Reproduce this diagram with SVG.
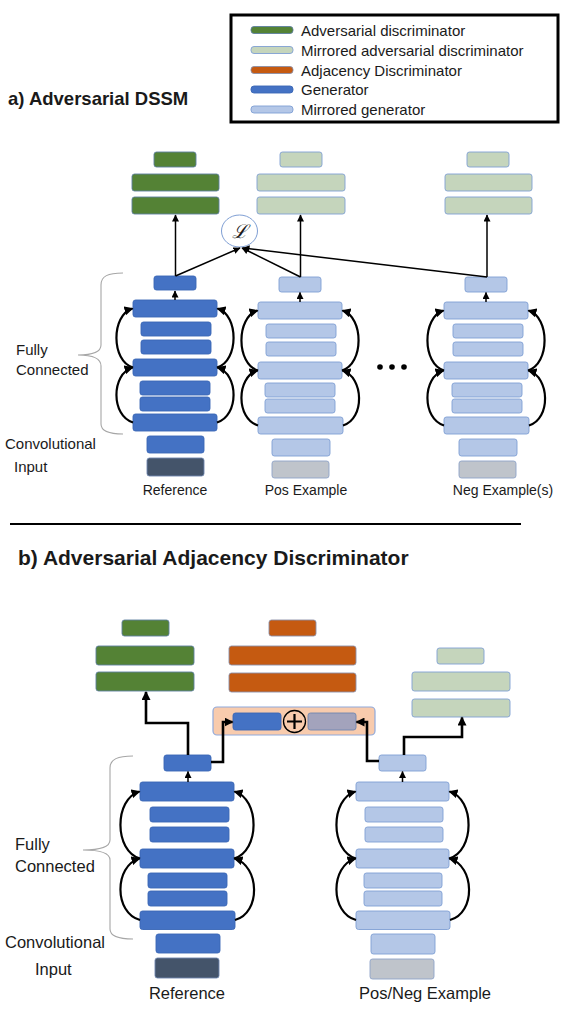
<svg xmlns="http://www.w3.org/2000/svg" width="563" height="1014" viewBox="0 0 563 1014">
<defs>
<style>
text{font-family:"Liberation Sans",Arial,sans-serif;fill:#1a1a1a}
.t{font-size:15px}
.s{font-size:14px}
.b{font-size:16.5px}
.ttl{font-weight:bold}
rect{stroke-width:0.9}
.gen{fill:#4472C4;stroke:#3A66B5}
.mgen{fill:#B4C7E7;stroke:#7F9FD4}
.adv{fill:#548235;stroke:#5E7F9F}
.madv{fill:#C5D5BC;stroke:#7F9FD4}
.adj{fill:#C55A11;stroke:#8A8FA8}
.inp{fill:#44546A;stroke:#6F87B0}
.inpg{fill:#BFC4CB;stroke:#8FA4C8}
.thin{fill:none;stroke:#000;stroke-width:1.5}
.arc{fill:none;stroke:#000;stroke-width:2.2}
.thick{fill:none;stroke:#000;stroke-width:2.6}
.brace{fill:none;stroke:#A6A6A6;stroke-width:1.1}
</style>
<marker id="as" markerUnits="userSpaceOnUse" markerWidth="8" markerHeight="7" refX="6.5" refY="3.5" orient="auto"><path d="M0,0 L7,3.5 L0,7 z" fill="#000"/></marker>
<marker id="ah" markerUnits="userSpaceOnUse" markerWidth="10" markerHeight="9" refX="8" refY="4.5" orient="auto"><path d="M0,0 L9,4.5 L0,9 z" fill="#000"/></marker>
</defs>
<rect width="563" height="1014" fill="#fff" stroke="none"/>

<g id="legend">
<rect x="231" y="15" width="327" height="107" fill="#fff" stroke="#000" style="stroke-width:3"/>
<rect class="adv" x="251" y="26.5" width="42" height="7" rx="3"/>
<rect class="madv" x="251" y="46.5" width="42" height="7" rx="3"/>
<rect class="adj" x="251" y="66.5" width="42" height="7" rx="3"/>
<rect class="gen" x="251" y="86" width="42" height="7" rx="3"/>
<rect class="mgen" x="251" y="106" width="42" height="7" rx="3"/>
<text class="t" x="301" y="35.5">Adversarial discriminator</text>
<text class="t" x="301" y="55.5">Mirrored adversarial discriminator</text>
<text class="t" x="301" y="75.5">Adjacency Discriminator</text>
<text class="t" x="301" y="95">Generator</text>
<text class="t" x="301" y="115">Mirrored generator</text>
</g>

<g id="titles">
<text class="ttl" x="8" y="105" style="font-size:18.5px">a) Adversarial DSSM</text>
<text class="ttl" x="18" y="565" style="font-size:21px">b) Adversarial Adjacency Discriminator</text>
<line x1="10" y1="524" x2="521" y2="524" stroke="#000" stroke-width="2"/>
</g>

<!-- Panel a -->
<g id="a-ref-disc">
<rect class="adv" x="154" y="152" width="42" height="15" rx="2.5"/>
<rect class="adv" x="132" y="174" width="87" height="17" rx="2.5"/>
<rect class="adv" x="132" y="197" width="87" height="17" rx="2.5"/>
</g>
<g id="a-pos-disc">
<rect class="madv" x="280" y="152" width="42" height="15" rx="2.5"/>
<rect class="madv" x="257" y="174" width="88" height="17" rx="2.5"/>
<rect class="madv" x="257" y="197" width="88" height="17" rx="2.5"/>
</g>
<g id="a-neg-disc">
<rect class="madv" x="467" y="152" width="42" height="15" rx="2.5"/>
<rect class="madv" x="445" y="174" width="87" height="17" rx="2.5"/>
<rect class="madv" x="445" y="197" width="87" height="17" rx="2.5"/>
</g>
<g id="a-loss">
<ellipse cx="239.5" cy="231" rx="18" ry="16" fill="#fff" stroke="#7F9FD4" stroke-width="1"/>
<text x="239.5" y="238" text-anchor="middle" style="font-family:'DejaVu Serif',serif;font-style:italic;font-size:19px">ℒ</text>
</g>
<g id="a-ref-gen">
<rect class="gen" x="154" y="276" width="42" height="14" rx="2.5"/>
<rect class="gen" x="133" y="300" width="84" height="17" rx="2.5"/>
<rect class="gen" x="141" y="322" width="70" height="14" rx="2.5"/>
<rect class="gen" x="141" y="340" width="70" height="14" rx="2.5"/>
<rect class="gen" x="133" y="359" width="84" height="17" rx="2.5"/>
<rect class="gen" x="140" y="381" width="70" height="14" rx="2.5"/>
<rect class="gen" x="140" y="397" width="70" height="14" rx="2.5"/>
<rect class="gen" x="133" y="414" width="84" height="17" rx="2.5"/>
<rect class="gen" x="147" y="436" width="57" height="17" rx="2.5"/>
<rect class="inp" x="147" y="458" width="57" height="18" rx="2.5"/>
<text class="s" x="175" y="495" text-anchor="middle">Reference</text>
</g>
<g id="a-pos-gen">
<rect class="mgen" x="279" y="277" width="42" height="15" rx="2.5"/>
<rect class="mgen" x="258" y="302" width="84" height="17" rx="2.5"/>
<rect class="mgen" x="266" y="324" width="70" height="14" rx="2.5"/>
<rect class="mgen" x="266" y="342" width="70" height="14" rx="2.5"/>
<rect class="mgen" x="258" y="362" width="84" height="17" rx="2.5"/>
<rect class="mgen" x="265" y="383" width="70" height="14" rx="2.5"/>
<rect class="mgen" x="265" y="399" width="70" height="14" rx="2.5"/>
<rect class="mgen" x="258" y="417" width="85" height="17" rx="2.5"/>
<rect class="mgen" x="272" y="439" width="58" height="17" rx="2.5"/>
<rect class="inpg" x="272" y="461" width="57" height="17" rx="2.5"/>
<text class="s" x="306" y="495" text-anchor="middle">Pos Example</text>
</g>
<g id="a-neg-gen">
<rect class="mgen" x="465" y="277" width="42" height="15" rx="2.5"/>
<rect class="mgen" x="444" y="302" width="84" height="17" rx="2.5"/>
<rect class="mgen" x="453" y="324" width="70" height="14" rx="2.5"/>
<rect class="mgen" x="453" y="342" width="70" height="14" rx="2.5"/>
<rect class="mgen" x="444" y="362" width="84" height="17" rx="2.5"/>
<rect class="mgen" x="452" y="383" width="70" height="14" rx="2.5"/>
<rect class="mgen" x="452" y="399" width="70" height="14" rx="2.5"/>
<rect class="mgen" x="444" y="417" width="85" height="17" rx="2.5"/>
<rect class="mgen" x="459" y="439" width="58" height="17" rx="2.5"/>
<rect class="inpg" x="459" y="461" width="57" height="17" rx="2.5"/>
<text class="s" x="503" y="495" text-anchor="middle">Neg Example(s)</text>
</g>
<g id="a-dots" fill="#000">
<circle cx="380" cy="367" r="2.8"/>
<circle cx="392" cy="367" r="2.8"/>
<circle cx="404" cy="367" r="2.8"/>
</g>
<g id="a-labels">
<text class="t" x="16" y="355">Fully</text>
<text class="t" x="16" y="375">Connected</text>
<text class="t" x="5" y="449">Convolutional</text>
<text class="t" x="14" y="472">Input</text>
<path class="brace" d="M123,273 C108,273 101,276 101,285 L101,345 C101,352 92,355 78,355 C92,355 101,358 101,366 L101,424 C101,431 108,434 123,434"/>
</g>

<g id="a-connectors">
<path class="thin" d="M175.5,276 L175.5,215" marker-end="url(#as)"/>
<path class="thin" d="M300.5,277 L300.5,215" marker-end="url(#as)"/>
<path class="thin" d="M487,277 L487,215" marker-end="url(#as)"/>
<path class="thin" d="M175.5,276 L240,248" marker-end="url(#as)"/>
<path class="thin" d="M300.5,277 L242,248" marker-end="url(#as)"/>
<path class="thin" d="M487,277 L243,248" marker-end="url(#as)"/>
<path class="thin" d="M175,300 L175,291" marker-end="url(#as)"/>
<path class="thin" d="M300,302 L300,292.5" marker-end="url(#as)"/>
<path class="thin" d="M486,302 L486,292.5" marker-end="url(#as)"/>
<!-- ref arcs -->
<path class="arc" d="M133,367.5 C111,361 111,315 132.5,308.5" marker-end="url(#ah)"/>
<path class="arc" d="M133,422.5 C111,416 111,374 132.5,367.5" marker-end="url(#ah)"/>
<path class="arc" d="M217,367.5 C239,361 239,315 217.5,308.5" marker-end="url(#ah)"/>
<path class="arc" d="M217,422.5 C239,416 239,374 217.5,367.5" marker-end="url(#ah)"/>
<!-- pos arcs -->
<path class="arc" d="M258,370.5 C236,364 236,317 257.5,310.5" marker-end="url(#ah)"/>
<path class="arc" d="M258,425.5 C236,419 236,377 257.5,370.5" marker-end="url(#ah)"/>
<path class="arc" d="M342,370.5 C364,364 364,317 342.5,310.5" marker-end="url(#ah)"/>
<path class="arc" d="M343,425.5 C365,419 364,377 342.5,370.5" marker-end="url(#ah)"/>
<!-- neg arcs -->
<path class="arc" d="M444,370.5 C422,364 422,317 443.5,310.5" marker-end="url(#ah)"/>
<path class="arc" d="M444,425.5 C422,419 422,377 443.5,370.5" marker-end="url(#ah)"/>
<path class="arc" d="M528,370.5 C550,364 550,317 528.5,310.5" marker-end="url(#ah)"/>
<path class="arc" d="M529,425.5 C551,419 550,377 528.5,370.5" marker-end="url(#ah)"/>
</g>

<!-- Panel b -->
<g id="b-adv-disc">
<rect class="adv" x="122" y="620" width="47" height="16" rx="2.5"/>
<rect class="adv" x="96" y="646" width="98" height="19" rx="2.5"/>
<rect class="adv" x="96" y="672" width="98" height="19" rx="2.5"/>
</g>
<g id="b-adj-disc">
<rect class="adj" x="269" y="620" width="47" height="16" rx="2.5"/>
<rect class="adj" x="229" y="646" width="127" height="19" rx="2.5"/>
<rect class="adj" x="229" y="673" width="127" height="19" rx="2.5"/>
</g>
<g id="b-madv-disc">
<rect class="madv" x="437" y="648" width="47" height="16" rx="2.5"/>
<rect class="madv" x="412" y="672" width="98" height="19" rx="2.5"/>
<rect class="madv" x="412" y="699" width="98" height="18" rx="2.5"/>
</g>
<g id="b-concat">
<rect x="213" y="707" width="162" height="28" rx="4" fill="#F8CBAD" stroke="#8FAADC" style="stroke-width:1.2"/>
<rect class="gen" x="233" y="713" width="48" height="17" rx="2.5"/>
<rect x="308" y="713" width="48" height="17" rx="2.5" fill="#A3A3BC" stroke="#6F87B0"/>
<circle cx="294.5" cy="721.5" r="11" fill="none" stroke="#000" stroke-width="1.3"/>
<path d="M287,721.5 H302 M294.5,714 V729" stroke="#000" stroke-width="2.2" fill="none"/>
</g>
<g id="b-ref-gen">
<rect class="gen" x="164" y="755" width="47" height="16" rx="2.5"/>
<rect class="gen" x="140" y="782" width="94" height="19" rx="2.5"/>
<rect class="gen" x="150" y="807" width="79" height="15" rx="2.5"/>
<rect class="gen" x="150" y="827" width="79" height="15" rx="2.5"/>
<rect class="gen" x="140" y="849" width="94" height="19" rx="2.5"/>
<rect class="gen" x="148" y="873" width="79" height="15" rx="2.5"/>
<rect class="gen" x="148" y="891" width="79" height="15" rx="2.5"/>
<rect class="gen" x="140" y="911" width="95" height="18.5" rx="2.5"/>
<rect class="gen" x="156" y="934" width="64" height="19" rx="2.5"/>
<rect class="inp" x="155" y="958" width="64" height="20" rx="2.5"/>
<text class="b" x="187" y="999" text-anchor="middle">Reference</text>
</g>
<g id="b-pos-gen">
<rect class="mgen" x="379" y="755" width="47" height="16" rx="2.5"/>
<rect class="mgen" x="356" y="782" width="93" height="19" rx="2.5"/>
<rect class="mgen" x="365" y="807" width="78" height="15" rx="2.5"/>
<rect class="mgen" x="365" y="827" width="78" height="15" rx="2.5"/>
<rect class="mgen" x="356" y="849" width="93" height="19" rx="2.5"/>
<rect class="mgen" x="364" y="873" width="78" height="15" rx="2.5"/>
<rect class="mgen" x="364" y="891" width="78" height="15" rx="2.5"/>
<rect class="mgen" x="356" y="911" width="94" height="18.5" rx="2.5"/>
<rect class="mgen" x="371" y="934" width="64" height="20" rx="2.5"/>
<rect class="inpg" x="370" y="959" width="64" height="20" rx="2.5"/>
<text class="b" x="425" y="999" text-anchor="middle">Pos/Neg Example</text>
</g>
<g id="b-labels">
<text class="b" x="15" y="850">Fully</text>
<text class="b" x="15" y="872">Connected</text>
<text class="b" x="5" y="947.5">Convolutional</text>
<text class="b" x="35" y="975">Input</text>
<path class="brace" d="M133,756 C118,756 110,759 110,768 L110,840 C110,847 100,850 83,850 C100,850 110,853 110,860 L110,929 C110,936 118,939 133,939"/>
</g>

<g id="b-connectors">
<path class="thick" d="M188,755 V723 H146 V692" marker-end="url(#ah)"/>
<path class="thick" d="M211,762 H223 V722 H232.5" marker-end="url(#ah)"/>
<path class="thick" d="M379,761 H367 V722 H356.5" marker-end="url(#ah)"/>
<path class="thick" d="M404,755 V737 H462 V717.5" marker-end="url(#ah)"/>
<path class="thin" d="M188,782 V771.5" marker-end="url(#as)"/>
<path class="thin" d="M402.5,782 V771.5" marker-end="url(#as)"/>
<!-- ref arcs -->
<path class="arc" d="M140,858.5 C114,851 114,799 139.5,791.5" marker-end="url(#ah)"/>
<path class="arc" d="M140,920 C114,913 114,866 139.5,858.5" marker-end="url(#ah)"/>
<path class="arc" d="M234,858.5 C260,851 260,799 234.5,791.5" marker-end="url(#ah)"/>
<path class="arc" d="M235,920 C261,913 260,866 234.5,858.5" marker-end="url(#ah)"/>
<!-- pos arcs -->
<path class="arc" d="M356,858.5 C330,851 330,799 355.5,791.5" marker-end="url(#ah)"/>
<path class="arc" d="M356,920 C330,913 330,866 355.5,858.5" marker-end="url(#ah)"/>
<path class="arc" d="M449,858.5 C475,851 475,799 449.5,791.5" marker-end="url(#ah)"/>
<path class="arc" d="M450,920 C476,913 475,866 449.5,858.5" marker-end="url(#ah)"/>
</g>
</svg>
